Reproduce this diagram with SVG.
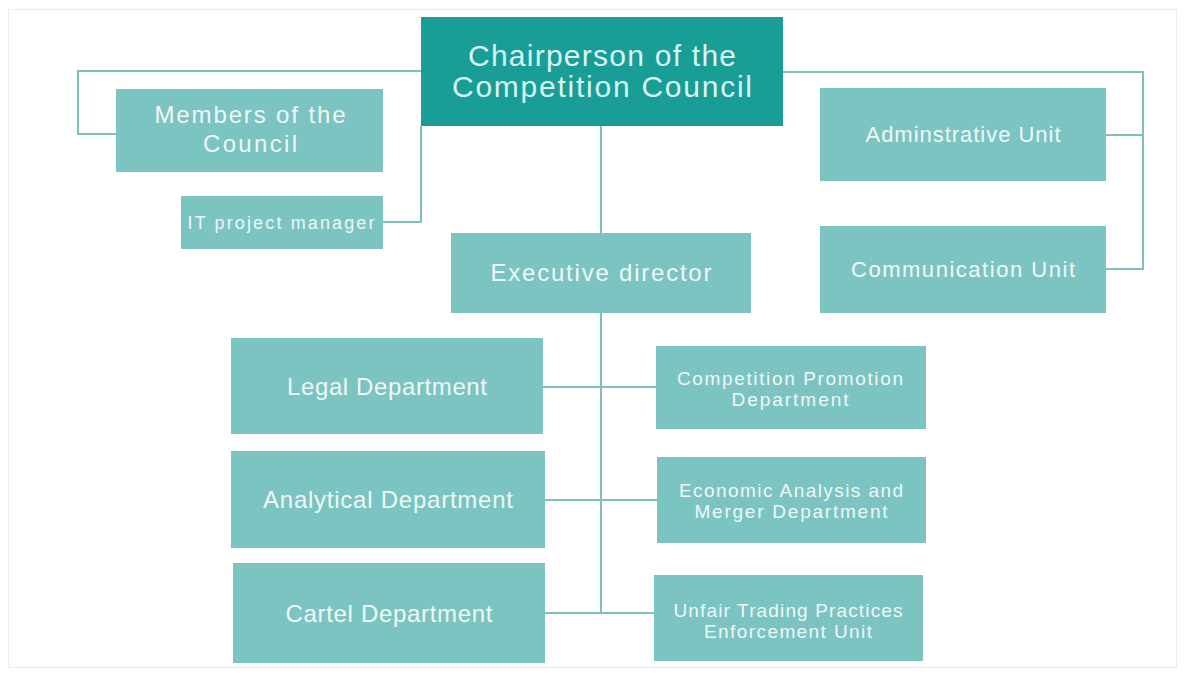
<svg xmlns="http://www.w3.org/2000/svg" width="1185" height="675" viewBox="0 0 1185 675">
  <style>
    .bg { fill: #ffffff; }
    .frame { fill: none; stroke: #ececec; stroke-width: 1; }
    .box { fill: #7cc4c1; }
    .head { fill: #199d97; }
    .link { fill: none; stroke: #7fc0bd; stroke-width: 2; }
    text { font-family: "Liberation Sans", Arial, sans-serif; fill: #eef8f7; text-anchor: middle; }
    .t-head { fill: #d8f4f1; font-size: 30px; }
    .t-lg { font-size: 24px; }
    .t-md { font-size: 22px; }
    .t-sm { font-size: 19px; }
    .t-xs { font-size: 18px; }
  </style>

  <rect class="bg" x="0" y="0" width="1185" height="675"/>
  <rect class="frame" x="8.5" y="9.5" width="1168" height="658"/>

  <!-- connectors -->
  <g id="connectors">
    <!-- chair to council members -->
    <polyline class="link" points="421,71 78,71 78,134 116,134"/>
    <!-- chair to IT project manager -->
    <polyline class="link" points="421,126 421,222 383,222"/>
    <!-- chair to right-hand units -->
    <polyline class="link" points="783,72 1143,72 1143,269 1106,269"/>
    <line class="link" x1="1106" y1="135" x2="1143" y2="135"/>
    <!-- chair to executive director -->
    <line class="link" x1="601" y1="126" x2="601" y2="233"/>
    <!-- executive director spine -->
    <line class="link" x1="601" y1="313" x2="601" y2="613"/>
    <line class="link" x1="543" y1="387" x2="656" y2="387"/>
    <line class="link" x1="545" y1="500" x2="657" y2="500"/>
    <line class="link" x1="545" y1="613" x2="654" y2="613"/>
  </g>

  <g id="chairperson">
    <rect class="head" x="421" y="17" width="362" height="109"/>
    <text class="t-head" x="602" y="66" textLength="268">Chairperson of the</text>
    <text class="t-head" x="602" y="97" textLength="300">Competition Council</text>
  </g>

  <g id="members">
    <rect class="box" x="116" y="89" width="267" height="83"/>
    <text class="t-lg" x="250" y="123" textLength="191">Members of the</text>
    <text class="t-lg" x="250" y="152" textLength="94">Council</text>
  </g>

  <g id="it-manager">
    <rect class="box" x="181" y="196" width="202" height="53"/>
    <text class="t-xs" x="281" y="229" textLength="187">IT project manager</text>
  </g>

  <g id="admin-unit">
    <rect class="box" x="820" y="88" width="286" height="93"/>
    <text class="t-md" x="963" y="142" textLength="195">Adminstrative Unit</text>
  </g>

  <g id="communication-unit">
    <rect class="box" x="820" y="226" width="286" height="87"/>
    <text class="t-md" x="963" y="277" textLength="224">Communication Unit</text>
  </g>

  <g id="executive-director">
    <rect class="box" x="451" y="233" width="300" height="80"/>
    <text class="t-lg" x="601" y="281" textLength="221">Executive director</text>
  </g>

  <g id="legal">
    <rect class="box" x="231" y="338" width="312" height="96"/>
    <text class="t-lg" x="387" y="395" textLength="200">Legal Department</text>
  </g>

  <g id="analytical">
    <rect class="box" x="231" y="451" width="314" height="97"/>
    <text class="t-lg" x="388" y="508" textLength="250">Analytical Department</text>
  </g>

  <g id="cartel">
    <rect class="box" x="233" y="563" width="312" height="100"/>
    <text class="t-lg" x="389" y="622" textLength="207">Cartel Department</text>
  </g>

  <g id="competition-promotion">
    <rect class="box" x="656" y="346" width="270" height="83"/>
    <text class="t-sm" x="790" y="385" textLength="226">Competition Promotion</text>
    <text class="t-sm" x="790" y="406" textLength="117">Department</text>
  </g>

  <g id="economic-analysis">
    <rect class="box" x="657" y="457" width="269" height="86"/>
    <text class="t-sm" x="791" y="497" textLength="224">Economic Analysis and</text>
    <text class="t-sm" x="791" y="518" textLength="193">Merger Department</text>
  </g>

  <g id="unfair-trading">
    <rect class="box" x="654" y="575" width="269" height="86"/>
    <text class="t-sm" x="788" y="617" textLength="229">Unfair Trading Practices</text>
    <text class="t-sm" x="788" y="638" textLength="168">Enforcement Unit</text>
  </g>
</svg>
